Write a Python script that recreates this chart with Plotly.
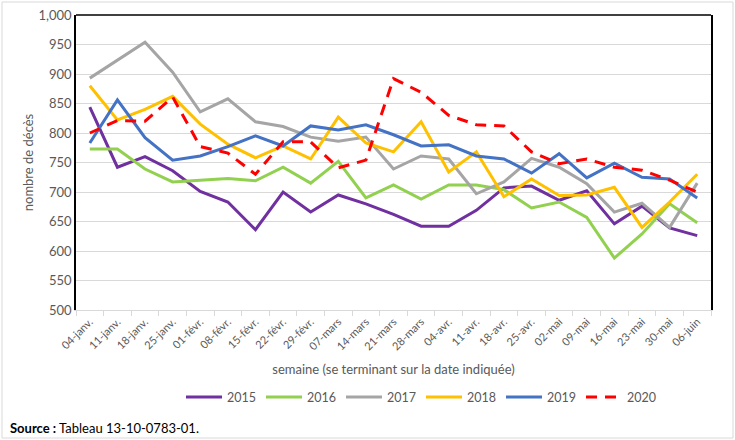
import plotly.graph_objects as go

weeks = ["04-janv.", "11-janv.", "18-janv.", "25-janv.", "01-févr.", "08-févr.", "15-févr.",
         "22-févr.", "29-févr.", "07-mars", "14-mars", "21-mars", "28-mars", "04-avr.",
         "11-avr.", "18-avr.", "25-avr.", "02-mai", "09-mai", "16-mai", "23-mai", "30-mai", "06-juin"]

y2015 = [844, 742, 760, 736, 701, 683, 636, 700, 666, 695, 680, 662, 642, 642, 669, 707, 710, 686, 702, 646, 676, 639, 626]
y2016 = [773, 773, 739, 717, 720, 723, 719, 742, 715, 752, 690, 712, 688, 712, 712, 704, 673, 683, 657, 588, 629, 680, 648]
y2017 = [893, 923, 954, 903, 836, 858, 819, 811, 793, 786, 793, 739, 761, 756, 697, 717, 757, 742, 714, 666, 681, 640, 715]
y2018 = [880, 822, 840, 862, 815, 781, 758, 778, 756, 827, 783, 768, 819, 734, 768, 692, 722, 694, 695, 708, 640, 683, 730]
y2019 = [783, 856, 792, 754, 761, 777, 795, 778, 812, 805, 814, 797, 778, 780, 761, 756, 732, 765, 724, 749, 725, 722, 690]
y2020 = [800, 821, 820, 861, 777, 766, 730, 785, 785, 741, 754, 892, 869, 830, 814, 812, 768, 748, 756, 742, 737, 720, 700]

series = [
    ("2015", y2015, "#7030A0", "solid"),
    ("2016", y2016, "#92D050", "solid"),
    ("2017", y2017, "#A5A5A5", "solid"),
    ("2018", y2018, "#FFC000", "solid"),
    ("2019", y2019, "#4472C4", "solid"),
    ("2020", y2020, "#FF0000", "11px,8px"),
]

FONT = "Lato, 'Liberation Sans', sans-serif"
fig = go.Figure()
for name, vals, col, dash in series:
    fig.add_trace(go.Scatter(x=weeks, y=vals, name=name, mode="lines",
                             line=dict(color=col, width=3, dash=dash)))

fig.update_layout(
    width=735, height=440,
    margin=dict(l=76, r=24, t=15, b=130, autoexpand=False),
    paper_bgcolor="white", plot_bgcolor="white",
    font=dict(family=FONT, color="#595959", size=12),
    showlegend=True,
    legend=dict(orientation="h", x=(421 - 76) / 635, xanchor="center", xref="paper",
                y=-0.245, yanchor="top", yref="paper",
                font=dict(size=12.5, color="#595959"), itemwidth=36, tracegroupgap=0),
    xaxis=dict(type="category", tickangle=-45, tickfont=dict(size=11, color="#595959"),
               automargin=False,
               showgrid=False, showline=True, linecolor="#D9D9D9", linewidth=1,
               ticks="outside", tickcolor="#D9D9D9", ticklen=5, tickson="boundaries",
               range=[-0.5, len(weeks) - 0.5],
               title=dict(text="semaine (se terminant sur la date indiquée)",
                          font=dict(size=13, color="#595959"), standoff=13)),
    yaxis=dict(range=[500, 1000], dtick=50, tickformat=",d",
               tickfont=dict(size=13, color="#595959"), automargin=False,
               showgrid=True, gridcolor="#D9D9D9", gridwidth=1,
               showline=True, linecolor="black", linewidth=1.5, mirror=True,
               zeroline=False, ticks="",
               title=dict(text="nombre de décès", font=dict(size=13, color="#595959"), standoff=2)),
)

# top border of plot area
fig.add_shape(type="line", xref="paper", yref="paper", x0=0, x1=1, y0=1, y1=1,
              line=dict(color="black", width=1.5))
# outer chart border
fig.add_shape(type="rect", xref="paper", yref="paper",
              x0=(2 - 76) / 635, x1=(733 - 76) / 635, y0=-(128 / 295), y1=1 + 13 / 295,
              line=dict(color="#D9D9D9", width=1), layer="below")

fig.add_annotation(xref="paper", yref="paper", x=(8 - 76) / 635, y=-(115 / 295),
                   xanchor="left", yanchor="middle", showarrow=False, yshift=-3,
                   text="<b>Source :</b> Tableau 13-10-0783-01.",
                   font=dict(size=13, color="black", family=FONT))

fig.write_html("out.html")
